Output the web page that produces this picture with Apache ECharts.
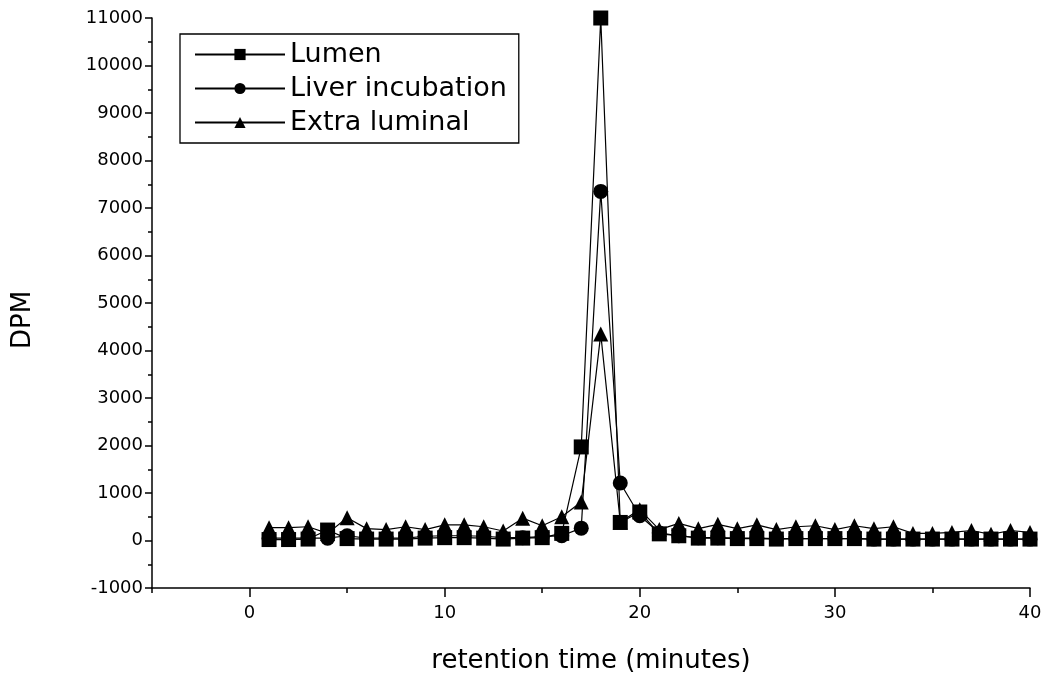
<!DOCTYPE html>
<html>
<head>
<meta charset="utf-8">
<title>DPM vs retention time</title>
<script src="https://cdn.jsdelivr.net/npm/echarts@6/dist/echarts.min.js"></script>
<style>
  html, body { margin: 0; padding: 0; background: #fff; }
  #chart { width: 1054px; height: 679px; }
</style>
</head>
<body>
<div id="chart"></div>
<script>
// retention time, minutes
const minutes = [1, 2, 3, 4, 5, 6, 7, 8, 9, 10, 11, 12, 13, 14, 15, 16, 17, 18, 19, 20,
  21, 22, 23, 24, 25, 26, 27, 28, 29, 30, 31, 32, 33, 34, 35, 36, 37, 38, 39, 40]

const lumen = [20, 20, 30, 220, 40, 30, 30, 30, 50, 60, 60, 50, 30, 50, 60, 150, 1970, 11000, 380, 600,
  140, 100, 50, 50, 40, 40, 30, 40, 40, 40, 40, 30, 30, 30, 30, 30, 30, 30, 30, 30]

const liverIncubation = [50, 50, 50, 50, 100, 50, 50, 50, 90, 100, 100, 90, 60, 60, 80, 100, 260, 7350, 1210, 520,
  160, 100, 60, 60, 50, 50, 40, 40, 40, 40, 40, 30, 30, 30, 30, 30, 30, 30, 30, 30]

const extraLuminal = [270, 270, 290, 150, 480, 250, 230, 290, 230, 330, 330, 290, 200, 470, 310, 500, 810, 4350, 390, 650,
  230, 360, 250, 340, 250, 330, 230, 290, 310, 230, 310, 250, 290, 150, 150, 170, 210, 130, 210, 170]

const xMajorTicks = [0, 10, 20, 30, 40]
const xMinorTicks = [-5, 5, 15, 25, 35]

const font = "DejaVu Sans, Liberation Sans, sans-serif"

const pairs = (ys) => minutes.map((x, i) => [x, ys[i]])

const makeSeries = (name, ys, symbol) => ({
  name: name,
  type: "line",
  data: pairs(ys),
  symbol: symbol,
  symbolSize: 15,
  clip: false,
  lineStyle: { color: "#000", width: 1.2 },
  itemStyle: { color: "#000" },
  emphasis: { disabled: true },
})

const chart = echarts.init(document.getElementById("chart"))

chart.setOption({
  animation: false,
  backgroundColor: "#fff",
  grid: {
    left: 152, right: 24, top: 18, bottom: 91,
    containLabel: false,
    outerBoundsMode: "none",
  },
  legend: {
    orient: "vertical",
    left: 180,
    top: 34,
    itemWidth: 90,
    itemHeight: 14,
    itemGap: 7,
    padding: [7, 12, 7, 14],
    borderColor: "#000",
    borderWidth: 1.3,
    textStyle: { fontFamily: font, fontSize: 27, color: "#000" },
    data: ["Lumen", "Liver incubation", "Extra luminal"],
  },
  xAxis: [
    {
      type: "value",
      min: -5,
      max: 40,
      name: "retention time (minutes)",
      nameLocation: "middle",
      nameGap: 60,
      nameTextStyle: { fontFamily: font, fontSize: 26, color: "#000" },
      splitLine: { show: false },
      axisLine: { onZero: false, lineStyle: { color: "#000", width: 1.5 } },
      axisTick: { customValues: xMajorTicks, length: 9, lineStyle: { color: "#000", width: 1.5 } },
      axisLabel: { customValues: xMajorTicks, margin: 16, fontFamily: font, fontSize: 18, color: "#000" },
    },
    {
      type: "value",
      min: -5,
      max: 40,
      position: "bottom",
      splitLine: { show: false },
      axisLine: { show: false, onZero: false },
      axisTick: { customValues: xMinorTicks, length: 5, lineStyle: { color: "#000", width: 1.5 } },
      axisLabel: { show: false },
    },
  ],
  yAxis: {
    type: "value",
    min: -1000,
    max: 11000,
    interval: 1000,
    name: "DPM",
    nameLocation: "middle",
    nameGap: 116,
    nameTextStyle: { fontFamily: font, fontSize: 26, color: "#000", padding: [0, 34, 0, 0] },
    splitLine: { show: false },
    axisLine: { show: true, onZero: false, lineStyle: { color: "#000", width: 1.5 } },
    axisTick: { length: 7, lineStyle: { color: "#000", width: 1.5 } },
    minorTick: { show: true, splitNumber: 2, length: 4, lineStyle: { color: "#000", width: 1.5 } },
    axisLabel: {
      margin: 9,
      fontFamily: font,
      fontSize: 18,
      color: "#000",
      formatter: (v) => String(v),
    },
  },
  series: [
    makeSeries("Lumen", lumen, "rect"),
    makeSeries("Liver incubation", liverIncubation, "circle"),
    makeSeries("Extra luminal", extraLuminal, "triangle"),
  ],
})
</script>
</body>
</html>
